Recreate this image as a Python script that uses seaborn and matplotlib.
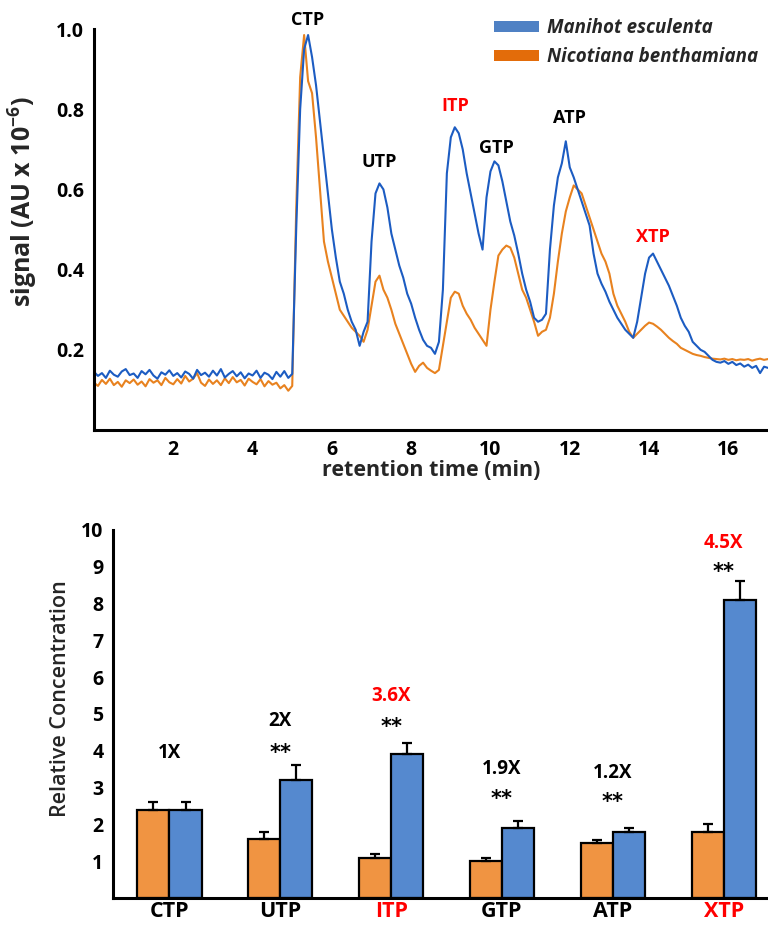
import numpy as np
import pandas as pd
import matplotlib
matplotlib.use("Agg")
import matplotlib.pyplot as plt
from matplotlib.patches import Patch
import seaborn as sns

# ---------------- data: chromatogram ----------------
time_min = [round(0.1 * i, 1) for i in range(171)]

manihot_signal = [
    .145, .135, .142, .130, .148, .138, .133, .146, .152, .137,
    .141, .130, .147, .139, .150, .136, .128, .144, .138, .149,
    .135, .142, .131, .146, .140, .128, .150, .137, .143, .133,
    .148, .136, .152, .131, .140, .147, .134, .144, .129, .141,
    .136, .148, .130, .143, .138, .127, .145, .133, .147, .130,
    .140, .500, .800, .950, .985, .930, .860, .770, .680, .590,
    .500, .430, .370, .340, .300, .270, .250, .210, .245, .270,
    .470, .590, .615, .600, .555, .490, .450, .410, .380, .340,
    .315, .280, .250, .225, .210, .205, .190, .220, .350, .640,
    .730, .755, .740, .700, .640, .590, .540, .490, .450, .580,
    .645, .670, .660, .620, .570, .520, .485, .440, .390, .350,
    .320, .280, .270, .275, .290, .450, .560, .630, .665, .720,
    .655, .630, .600, .570, .540, .510, .440, .390, .365, .345,
    .320, .300, .280, .265, .250, .240, .230, .270, .330, .390,
    .430, .440, .420, .400, .380, .360, .335, .310, .280, .260,
    .245, .220, .210, .200, .195, .185, .175, .170, .168, .172,
    .165, .170, .162, .166, .158, .163, .155, .160, .142, .158,
    .155,
]

nicotiana_signal = [
    .118, .110, .125, .115, .128, .112, .120, .108, .124, .117,
    .126, .113, .121, .109, .127, .118, .124, .112, .130, .119,
    .114, .127, .116, .135, .121, .128, .142, .118, .110, .126,
    .115, .124, .112, .129, .117, .132, .119, .125, .111, .128,
    .120, .114, .127, .109, .122, .113, .118, .104, .112, .098,
    .110, .550, .880, .985, .870, .840, .730, .600, .470, .420,
    .380, .340, .300, .285, .270, .255, .245, .235, .220, .250,
    .310, .370, .385, .350, .330, .300, .265, .240, .215, .190,
    .165, .145, .160, .168, .155, .148, .142, .150, .210, .270,
    .330, .345, .340, .310, .290, .275, .255, .240, .225, .210,
    .300, .370, .435, .450, .460, .455, .430, .390, .350, .330,
    .300, .270, .235, .245, .250, .280, .340, .420, .490, .545,
    .580, .610, .600, .590, .560, .530, .500, .470, .440, .420,
    .390, .340, .310, .290, .270, .245, .230, .240, .250, .260,
    .268, .265, .258, .250, .240, .230, .222, .215, .205, .200,
    .195, .190, .187, .185, .182, .180, .178, .177, .176, .178,
    .175, .177, .174, .176, .175, .177, .173, .176, .178, .175,
    .177,
]

peak_names = ["CTP", "UTP", "ITP", "GTP", "ATP", "XTP"]
peak_label_x = [5.38, 7.2, 9.1, 10.15, 12.0, 14.1]
peak_label_y = [1.0, 0.645, 0.785, 0.68, 0.755, 0.46]
peak_label_colors = ["black", "black", "red", "black", "black", "red"]

# ---------------- data: bar chart ----------------
nucleotides = ["CTP", "UTP", "ITP", "GTP", "ATP", "XTP"]
nicotiana_conc = [2.4, 1.6, 1.1, 1.0, 1.5, 1.8]
nicotiana_err = [0.2, 0.2, 0.1, 0.08, 0.08, 0.2]
manihot_conc = [2.4, 3.2, 3.9, 1.9, 1.8, 8.1]
manihot_err = [0.2, 0.4, 0.3, 0.2, 0.1, 0.5]
fold_labels = ["1X", "2X", "3.6X", "1.9X", "1.2X", "4.5X"]
fold_y = [3.95, 4.8, 5.5, 3.5, 3.4, 9.65]
star_labels = ["", "**", "**", "**", "**", "**"]
star_y = [0, 3.95, 4.65, 2.7, 2.6, 8.85]
label_colors = ["black", "black", "red", "black", "black", "red"]

species = ["Manihot esculenta", "Nicotiana benthamiana"]

# ---------------- style ----------------
sns.set_theme(style="white")
FONT = "Open Sans"
plt.rcParams["font.family"] = [FONT, "DejaVu Sans"]
plt.rcParams["mathtext.fontset"] = "custom"
plt.rcParams["mathtext.rm"] = FONT
plt.rcParams["mathtext.bf"] = FONT + ":bold"

line_blue = "#1c5cc2"
line_orange = "#e8821f"
bar_orange = "#f09442"
bar_blue = "#5589cf"

fig = plt.figure(figsize=(7.68, 9.27), dpi=100)

# ---------------- top: chromatogram ----------------
ax1 = fig.add_axes([0.1224, 0.5361, 0.8776, 0.4326])
df_line = pd.DataFrame({
    "time": time_min * 2,
    "signal": manihot_signal + nicotiana_signal,
    "species": [species[0]] * len(time_min) + [species[1]] * len(time_min),
})
sns.lineplot(data=df_line, x="time", y="signal", hue="species",
             hue_order=[species[1], species[0]],
             palette={species[0]: line_blue, species[1]: line_orange},
             linewidth=1.5, legend=False, ax=ax1, estimator=None)
ax1.set_xlim(0, 17)
ax1.set_ylim(0, 1.0)
ax1.set_xticks([2, 4, 6, 8, 10, 12, 14, 16])
ax1.set_yticks([0.2, 0.4, 0.6, 0.8, 1.0])
ax1.set_yticklabels(["0.2", "0.4", "0.6", "0.8", "1.0"])
for s in ["top", "right"]:
    ax1.spines[s].set_visible(False)
for s in ["left", "bottom"]:
    ax1.spines[s].set_linewidth(2.2)
    ax1.spines[s].set_color("black")
ax1.tick_params(axis="both", direction="out", length=3, width=1.5,
                labelsize=14, colors="black", pad=4)
ax1.tick_params(axis="x", pad=4)
for lab in ax1.get_xticklabels() + ax1.get_yticklabels():
    lab.set_fontweight("bold")
ax1.set_xlabel("retention time (min)", fontsize=15.5, fontweight="bold", labelpad=0)
ax1.set_ylabel(r"signal (AU x 10$^{\mathbf{-6}}$)", fontsize=18, fontweight="bold")
ax1.yaxis.set_label_coords(-0.08, 0.57)

for name, x, y, c in zip(peak_names, peak_label_x, peak_label_y, peak_label_colors):
    ax1.text(x, y, name, color=c, fontsize=13, fontweight="bold",
             ha="center", va="bottom", clip_on=False)

handles = [Patch(facecolor="#4f81c4", edgecolor="none"),
           Patch(facecolor="#e36c0a", edgecolor="none")]
leg = fig.legend(handles, species, loc="upper left",
                 bbox_to_anchor=(477 / 768, 1 - 1 / 927),
                 frameon=False, handlelength=2.4, handleheight=0.5,
                 handletextpad=0.45, labelspacing=0.5,
                 prop={"family": FONT, "size": 13.5, "weight": "bold", "style": "italic"})

# ---------------- bottom: bar chart ----------------
ax2 = fig.add_axes([0.1471, 0.0313, 0.8529, 0.397])
df_bar = pd.DataFrame({
    "nucleotide": nucleotides * 2,
    "conc": nicotiana_conc + manihot_conc,
    "err": nicotiana_err + manihot_err,
    "species": [species[1]] * 6 + [species[0]] * 6,
})
sns.barplot(data=df_bar, x="nucleotide", y="conc", hue="species",
            order=nucleotides, hue_order=[species[1], species[0]],
            palette={species[1]: bar_orange, species[0]: bar_blue},
            width=0.58, gap=0, errorbar=None, edgecolor="black",
            linewidth=1.6, legend=False, ax=ax2, saturation=1)

# error bars (upper only) on the bar patches placed by seaborn
bars = [p for p in ax2.patches]
errs = nicotiana_err + manihot_err
for p, e in zip(bars, errs):
    cx = p.get_x() + p.get_width() / 2
    h = p.get_height()
    ax2.errorbar(cx, h, yerr=[[0], [e]], color="black", capsize=3.5,
                 elinewidth=1.6, capthick=1.6, zorder=5)

ax2.set_xlim(-0.51, 5.4)
ax2.set_ylim(0, 10)
ax2.set_yticks(range(1, 11))
for s in ["top", "right"]:
    ax2.spines[s].set_visible(False)
for s in ["left", "bottom"]:
    ax2.spines[s].set_linewidth(2.2)
    ax2.spines[s].set_color("black")
ax2.tick_params(axis="y", direction="out", length=3, width=1.5,
                labelsize=14, colors="black", pad=4)
ax2.tick_params(axis="x", length=0, labelsize=15.5, colors="black", pad=2)
for lab in ax2.get_yticklabels():
    lab.set_fontweight("bold")
for lab, c in zip(ax2.get_xticklabels(), label_colors):
    lab.set_fontweight("bold")
    lab.set_color(c)
ax2.set_xlabel("")
ax2.set_ylabel("Relative Concentration", fontsize=15.5, fontweight="semibold")
ax2.yaxis.set_label_coords(-0.064, 0.543)

for i, (fl, fy, st, sy, c) in enumerate(zip(fold_labels, fold_y, star_labels, star_y, label_colors)):
    ax2.text(i, fy, fl, color=c, fontsize=13.5, fontweight="bold", ha="center", va="center")
    if st:
        ax2.text(i, sy, st, color="black", fontsize=15, fontweight="bold",
                 ha="center", va="center", family=["DejaVu Sans"])

fig.savefig("out.png", dpi=100)
